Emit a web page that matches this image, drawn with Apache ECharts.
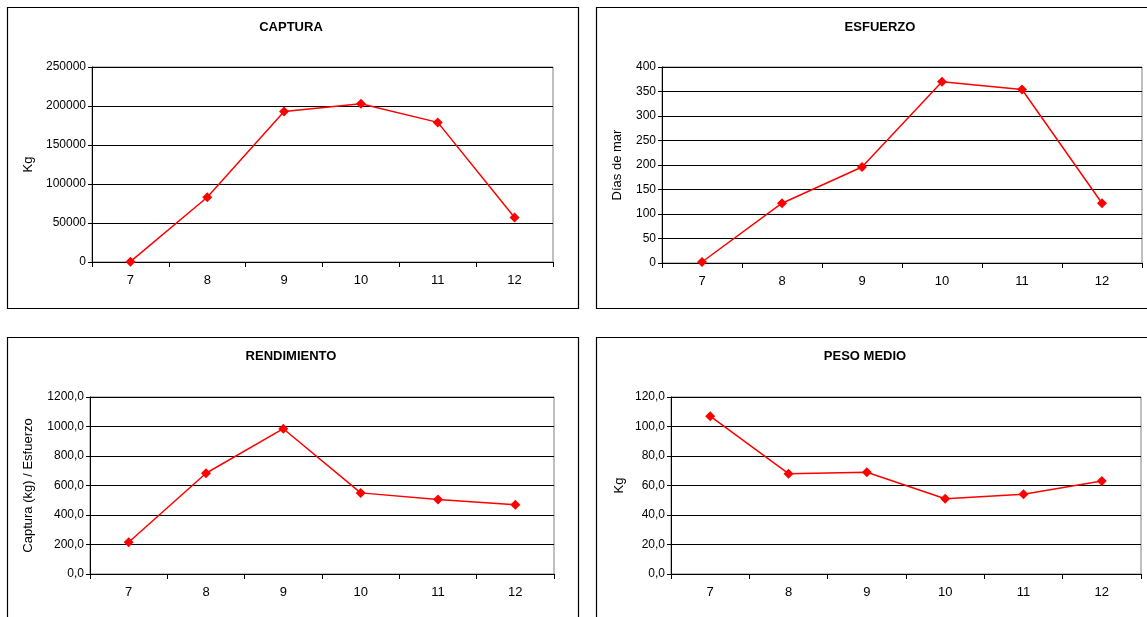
<!DOCTYPE html>
<html><head><meta charset="utf-8">
<script src="https://cdn.jsdelivr.net/npm/echarts@6/dist/echarts.min.js"></script>
<style>html,body{margin:0;padding:0;background:#fff}#c{width:1147px;height:617px}</style>
</head><body><div id="c"></div>
<script>
const months = ['7','8','9','10','11','12'];
const captura = [430, 83000, 193000, 203000, 179000, 57000];
const esfuerzo = [2, 122, 196, 370, 354, 122];
const rendimiento = [215, 683, 985, 550, 505, 470];
const pesoMedio = [107, 68, 69, 51, 54, 63];
const titles = ['CAPTURA', 'ESFUERZO', 'RENDIMIENTO', 'PESO MEDIO'];
const yNames = ['Kg', 'Días de mar', 'Captura (kg) / Esfuerzo', 'Kg'];
const yMax = [250000, 400, 1200, 120];
const yInterval = [50000, 50, 200, 20];
const seriesData = [captura, esfuerzo, rendimiento, pesoMedio];

const FONT = '"Liberation Sans", Arial, sans-serif';
const grids = [
  {left: 92, top: 67, width: 461, height: 195},
  {left: 662, top: 67, width: 480, height: 196},
  {left: 90, top: 397, width: 464, height: 177},
  {left: 671, top: 397, width: 470, height: 177}
];
const titlePos = [{x: 286, y: 16}, {x: 875, y: 16}, {x: 286, y: 345}, {x: 860, y: 345}];
const nameGaps = [57, 38, 55, 45];
const dec = v => v.toFixed(1).replace('.', ',');

const option = {
  animation: false,
  backgroundColor: '#fff',
  title: titles.map((t, i) => ({
    text: t, left: titlePos[i].x, top: titlePos[i].y, textAlign: 'center',
    textStyle: {fontFamily: FONT, fontSize: 13, fontWeight: 'bold', color: '#000'}
  })),
  graphic: [
    {type: 'rect', shape: {x: 7.5, y: 7.5, width: 571, height: 301}, style: {fill: 'none', stroke: '#000', lineWidth: 1.2}},
    {type: 'rect', shape: {x: 596.5, y: 7.5, width: 600, height: 301}, style: {fill: 'none', stroke: '#000', lineWidth: 1.2}},
    {type: 'rect', shape: {x: 7.5, y: 337.5, width: 571, height: 320}, style: {fill: 'none', stroke: '#000', lineWidth: 1.2}},
    {type: 'rect', shape: {x: 596.5, y: 337.5, width: 600, height: 320}, style: {fill: 'none', stroke: '#000', lineWidth: 1.2}}
  ],
  grid: grids.map(g => Object.assign({show: true, borderColor: '#808080', borderWidth: 1, backgroundColor: '#fff', containLabel: false}, g)),
  xAxis: grids.map((g, i) => ({
    type: 'category', gridIndex: i, data: months, boundaryGap: true,
    axisLine: {lineStyle: {color: '#000', width: 1}},
    axisTick: {show: true, length: 5, lineStyle: {color: '#000'}},
    axisLabel: {fontFamily: FONT, fontSize: 13, color: '#000', margin: 12},
    splitLine: {show: false}
  })),
  yAxis: grids.map((g, i) => ({
    type: 'value', gridIndex: i, min: 0, max: yMax[i], interval: yInterval[i],
    name: yNames[i], nameLocation: 'middle', nameRotate: 90, nameGap: nameGaps[i],
    nameTextStyle: {fontFamily: FONT, fontSize: 13, color: '#000'},
    axisLine: {show: true, lineStyle: {color: '#000', width: 1}},
    axisTick: {show: true, length: 4, lineStyle: {color: '#000'}},
    axisLabel: {fontFamily: FONT, fontSize: 12, color: '#000', margin: 6,
      formatter: i >= 2 ? dec : (v => String(v))},
    splitLine: {show: true, lineStyle: {color: '#000', width: 1}}
  })),
  series: seriesData.map((d, i) => ({
    type: 'line', xAxisIndex: i, yAxisIndex: i, data: d,
    symbol: 'diamond', symbolSize: 10,
    lineStyle: {color: '#ff0000', width: 1.5},
    itemStyle: {color: '#ff0000'}
  }))
};
const chart = echarts.init(document.getElementById('c'), null, {renderer: 'canvas'});
chart.setOption(option);
</script></body></html>
